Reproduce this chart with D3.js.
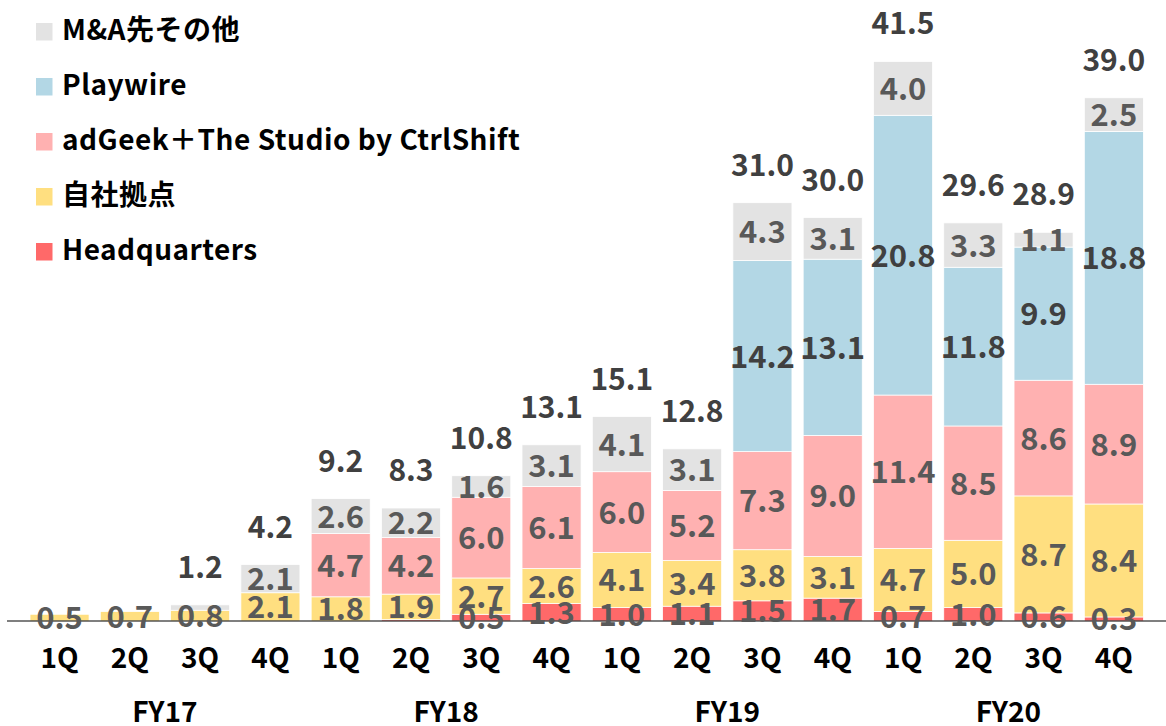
<!DOCTYPE html>
<html>
<head>
<meta charset="utf-8">
<script src="https://cdn.jsdelivr.net/npm/d3@7"></script>
<style>
  body { margin: 0; background: #fff; }
  svg { display: block; font-family: "Noto Sans CJK JP", "Noto Sans", sans-serif; }
</style>
</head>
<body>
<div id="chart"></div>
<script>
const quarters = ["1Q", "2Q", "3Q", "4Q", "1Q", "2Q", "3Q", "4Q", "1Q", "2Q", "3Q", "4Q", "1Q", "2Q", "3Q", "4Q"];
const fiscalYears = ["FY17", "FY18", "FY19", "FY20"];

const headquarters = [0, 0, 0, 0, 0, 0.1, 0.5, 1.3, 1.0, 1.1, 1.5, 1.7, 0.7, 1.0, 0.6, 0.3];
const ownSites = [0.5, 0.7, 0.8, 2.1, 1.8, 1.9, 2.7, 2.6, 4.1, 3.4, 3.8, 3.1, 4.7, 5.0, 8.7, 8.4];
const adGeek = [0, 0, 0, 0, 4.7, 4.2, 6.0, 6.1, 6.0, 5.2, 7.3, 9.0, 11.4, 8.5, 8.6, 8.9];
const playwire = [0, 0, 0, 0, 0, 0, 0, 0, 0, 0, 14.2, 13.1, 20.8, 11.8, 9.9, 18.8];
const maOther = [0, 0, 0.4, 2.1, 2.6, 2.2, 1.6, 3.1, 4.1, 3.1, 4.3, 3.1, 4.0, 3.3, 1.1, 2.5];
// null: total not labelled in the original
const totals = [null, null, 1.2, 4.2, 9.2, 8.3, 10.8, 13.1, 15.1, 12.8, 31.0, 30.0, 41.5, 29.6, 28.9, 39.0];

// segments whose value label is not shown in the original
const hiddenLabels = [[2, "maOther"], [5, "headquarters"]];

const series = [
  { key: "headquarters", name: "Headquarters", values: headquarters, color: "#ff6969", label: "#595959" },
  { key: "ownSites", name: "自社拠点", values: ownSites, color: "#ffdf80", label: "#595959" },
  { key: "adGeek", name: "adGeek＋The Studio by CtrlShift", values: adGeek, color: "#ffb1b1", label: "#595959" },
  { key: "playwire", name: "Playwire", values: playwire, color: "#b3d7e5", label: "#404040" },
  { key: "maOther", name: "M&A先その他", values: maOther, color: "#e3e3e3", label: "#595959" },
];

const width = 1166;
const height = 726;
const baseline = 621;

const svg = d3
  .select("#chart")
  .append("svg")
  .attr("width", width)
  .attr("height", height);

const table = quarters.map((q, i) => {
  const row = { i };
  series.forEach((s) => (row[s.key] = s.values[i]));
  return row;
});

const stack = d3.stack().keys(series.map((s) => s.key));
const stacked = stack(table);

const x = d3
  .scaleBand()
  .domain(d3.range(quarters.length))
  .range([24.4, 1149])
  .paddingInner(0.16)
  .paddingOuter(0.08);

const y = d3.scaleLinear().domain([0, 45]).range([baseline, baseline - 45 * 13.45]);

const color = d3
  .scaleOrdinal()
  .domain(series.map((s) => s.key))
  .range(series.map((s) => s.color));

// bars
const layers = svg
  .append("g")
  .selectAll("g")
  .data(stacked)
  .join("g")
  .attr("fill", (d) => color(d.key));

layers
  .selectAll("rect")
  .data((d) => d.filter((p) => p[1] - p[0] > 0))
  .join("rect")
  .attr("x", (d) => x(d.data.i))
  .attr("y", (d) => y(d[1]))
  .attr("width", x.bandwidth())
  .attr("height", (d) => y(d[0]) - y(d[1]))
  .attr("stroke", "#fff")
  .attr("stroke-width", 0.75);

// axis line
svg
  .append("line")
  .attr("x1", 7)
  .attr("x2", width)
  .attr("y1", baseline)
  .attr("y2", baseline)
  .attr("stroke", "#000")
  .attr("stroke-width", 1.2);

// segment labels
const isHidden = (i, key) => hiddenLabels.some(([b, k]) => b === i && k === key);

stacked.forEach((layer, li) => {
  svg
    .append("g")
    .selectAll("text")
    .data(layer.filter((p) => p[1] - p[0] > 0 && !isHidden(p.data.i, layer.key)))
    .join("text")
    .attr("x", (d) => x(d.data.i) + x.bandwidth() / 2)
    .attr("y", (d) => (y(d[0]) + y(d[1])) / 2)
    .attr("dy", "0.37em")
    .attr("text-anchor", "middle")
    .attr("fill", series[li].label)
    .attr("font-size", 31)
    .attr("font-weight", "bold")
    .text((d) => d3.format(".1f")(d[1] - d[0]));
});

// totals
svg
  .append("g")
  .selectAll("text")
  .data(totals.map((v, i) => ({ v, i })).filter((d) => d.v !== null))
  .join("text")
  .attr("x", (d) => x(d.i) + x.bandwidth() / 2)
  .attr("y", (d) => y(d3.sum(series, (s) => s.values[d.i])) - 27)
  .attr("text-anchor", "middle")
  .attr("fill", "#404040")
  .attr("font-size", 30)
  .attr("font-weight", "bold")
  .text((d) => d3.format(".1f")(d.v));

// quarter labels
svg
  .append("g")
  .selectAll("text")
  .data(quarters)
  .join("text")
  .attr("x", (d, i) => x(i) + x.bandwidth() / 2)
  .attr("y", 668)
  .attr("text-anchor", "middle")
  .attr("fill", "#000")
  .attr("font-size", 28)
  .attr("font-weight", "bold")
  .text((d) => d);

// fiscal year labels
svg
  .append("g")
  .selectAll("text")
  .data(fiscalYears)
  .join("text")
  .attr("x", (d, i) => (x(i * 4) + x(i * 4 + 3) + x.bandwidth()) / 2)
  .attr("y", 722)
  .attr("text-anchor", "middle")
  .attr("fill", "#000")
  .attr("font-size", 28)
  .attr("font-weight", "bold")
  .text((d) => d);

// legend
const legend = svg
  .append("g")
  .selectAll("g")
  .data(series.slice().reverse())
  .join("g")
  .attr("transform", (d, i) => `translate(36,${23 + i * 55})`);

legend
  .append("rect")
  .attr("width", 16.5)
  .attr("height", 17.5)
  .attr("fill", (d) => d.color);

legend
  .append("text")
  .attr("x", 26)
  .attr("y", 17)
  .attr("fill", "#000")
  .attr("font-size", 28)
  .attr("font-weight", "bold")
  .attr("letter-spacing", 0.5)
  .text((d) => d.name);
</script>
</body>
</html>
